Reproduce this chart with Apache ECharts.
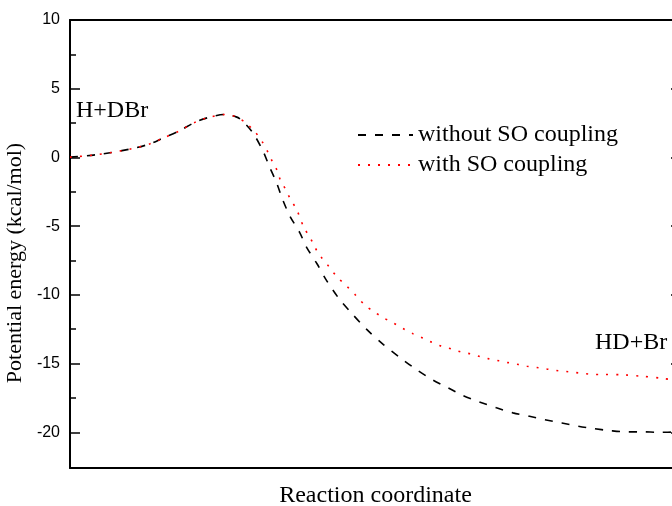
<!DOCTYPE html>
<html>
<head>
<meta charset="utf-8">
<script src="https://cdn.jsdelivr.net/npm/echarts@6/dist/echarts.min.js"></script>
<style>
  html, body { margin: 0; padding: 0; background: #fff; }
  #chart { width: 672px; height: 506px; }
</style>
</head>
<body>
<div id="chart"></div>
<script>
// reaction coordinate (arbitrary units, 0..100) and energies in kcal/mol
var xNoSO = [0, 4.4, 10.1, 13.1, 15.1, 17.7, 20.7, 22.9, 25.3, 27.2, 28.1, 29.9, 31.6, 32.7, 33.8, 34.8, 36.0, 37.6, 38.7, 40.4, 41.9, 43.9, 46.0, 48.6, 51.3, 54.0, 56.7, 59.4, 61.9, 64.3, 67.0, 69.8, 72.5, 75.2, 77.7, 80.5, 83.2, 85.6, 88.4, 91.1, 93.8, 96.2, 100];
var yNoSO = [0.02, 0.2, 0.63, 0.99, 1.38, 1.89, 2.61, 2.93, 3.12, 2.95, 2.71, 1.81, 0.45, -0.74, -1.83, -3.06, -4.28, -5.47, -6.52, -7.72, -8.89, -10.2, -11.29, -12.53, -13.62, -14.56, -15.44, -16.2, -16.77, -17.33, -17.79, -18.22, -18.59, -18.84, -19.08, -19.32, -19.56, -19.73, -19.88, -19.97, -19.97, -20.0, -19.98];

var xSO = [0, 4.4, 10.1, 13.1, 15.1, 17.7, 20.7, 22.9, 25.3, 27.2, 28.9, 30.4, 31.5, 32.4, 33.1, 33.9, 34.4, 35.3, 36.1, 37.1, 38.3, 39.3, 40.1, 41.1, 42.4, 43.7, 45.3, 46.8, 48.3, 49.8, 51.3, 52.9, 54.5, 56.1, 57.7, 59.2, 60.8, 62.4, 63.9, 65.5, 67.1, 68.6, 70.2, 71.7, 73.4, 74.8, 76.4, 78.0, 79.6, 81.2, 82.8, 84.3, 85.8, 87.3, 90.6, 93.5, 96.8, 100];
var ySO = [0.02, 0.2, 0.63, 0.99, 1.38, 1.89, 2.61, 2.93, 3.12, 2.95, 2.47, 1.79, 1.11, 0.38, -0.28, -0.95, -1.61, -2.34, -3.06, -3.79, -5.12, -5.83, -6.56, -7.25, -7.96, -8.69, -9.37, -10.05, -10.76, -11.24, -11.67, -12.04, -12.45, -12.82, -13.14, -13.45, -13.74, -13.93, -14.15, -14.29, -14.49, -14.66, -14.8, -14.93, -15.07, -15.2, -15.29, -15.39, -15.51, -15.58, -15.66, -15.73, -15.8, -15.8, -15.82, -15.92, -16.07, -16.27];

var seriesNames = ['without SO coupling', 'with SO coupling'];
var yMajor = [-20, -15, -10, -5, 0, 5, 10];
var yMinor = [-17.5, -12.5, -7.5, -2.5, 2.5, 7.5];
var yMin = -22.6, yMax = 10;

function pairs(xs, ys) {
  var out = [];
  for (var i = 0; i < xs.length; i++) out.push([xs[i], ys[i]]);
  return out;
}

var serif = '"Liberation Serif", "Times New Roman", serif';
var sans = '"Liberation Sans", Arial, sans-serif';
var black = '#000';

var chart = echarts.init(document.getElementById('chart'));

var option = {
  backgroundColor: '#fff',
  animation: false,
  grid: { left: 70, top: 20, right: -9, bottom: 38, outerBoundsMode: 'none', containLabel: false },
  legend: {
    orient: 'vertical',
    left: 352,
    top: 118,
    itemWidth: 55,
    itemHeight: 14,
    itemGap: 6,
    data: seriesNames,
    itemStyle: { opacity: 0 },
    textStyle: { fontFamily: serif, fontSize: 24, color: black }
  },
  xAxis: [{
    type: 'value',
    min: 0, max: 100,
    position: 'bottom',
    name: 'Reaction coordinate',
    nameLocation: 'middle',
    nameGap: 16,
    nameTextStyle: { fontFamily: serif, fontSize: 24, color: black },
    axisLine: { onZero: false, lineStyle: { color: black, width: 2 } },
    axisTick: { show: false },
    axisLabel: { show: false },
    splitLine: { show: false }
  }, {
    type: 'value',
    min: 0, max: 100,
    position: 'top',
    axisLine: { onZero: false, lineStyle: { color: black, width: 2 } },
    axisTick: { show: false },
    axisLabel: { show: false },
    splitLine: { show: false }
  }],
  yAxis: [{
    type: 'value',
    min: yMin, max: yMax,
    position: 'left',
    name: 'Potential energy (kcal/mol)',
    nameLocation: 'middle',
    nameGap: 37,
    nameTextStyle: { fontFamily: serif, fontSize: 22, color: black, padding: [0, 38, 0, 0] },
    axisLine: { show: true, onZero: false, lineStyle: { color: black, width: 2 } },
    axisTick: { show: true, inside: true, length: 10, customValues: yMajor, lineStyle: { color: black, width: 1.5 } },
    axisLabel: { customValues: yMajor, margin: 10, fontFamily: sans, fontSize: 16, color: black },
    splitLine: { show: false }
  }, {
    type: 'value',
    min: yMin, max: yMax,
    position: 'left',
    axisLine: { show: false, onZero: false },
    axisTick: { show: true, inside: true, length: 6, customValues: yMinor, lineStyle: { color: black, width: 1.5 } },
    axisLabel: { show: false },
    splitLine: { show: false }
  }, {
    type: 'value',
    min: yMin, max: yMax,
    position: 'right',
    axisLine: { show: true, onZero: false, lineStyle: { color: black, width: 2 } },
    axisTick: { show: true, inside: true, length: 10, customValues: yMajor, lineStyle: { color: black, width: 1.5 } },
    axisLabel: { show: false },
    splitLine: { show: false }
  }],
  graphic: [{
    type: 'text', left: 76, top: 99,
    style: { text: 'H+DBr', font: '24px ' + serif, fill: black }
  }, {
    type: 'text', left: 595, top: 331,
    style: { text: 'HD+Br', font: '24px ' + serif, fill: black }
  }],
  series: [{
    name: seriesNames[0],
    type: 'line',
    data: pairs(xNoSO, yNoSO),
    symbol: 'none',
    smooth: 0.3,
    color: black,
    lineStyle: { color: black, width: 1.6, type: [8, 9] },
    z: 3
  }, {
    name: seriesNames[1],
    type: 'line',
    data: pairs(xSO, ySO),
    symbol: 'none',
    smooth: 0.3,
    color: '#ff0000',
    lineStyle: { color: '#ff0000', width: 1.6, type: [2, 8] },
    z: 4
  }]
};

chart.setOption(option);
</script>
</body>
</html>
